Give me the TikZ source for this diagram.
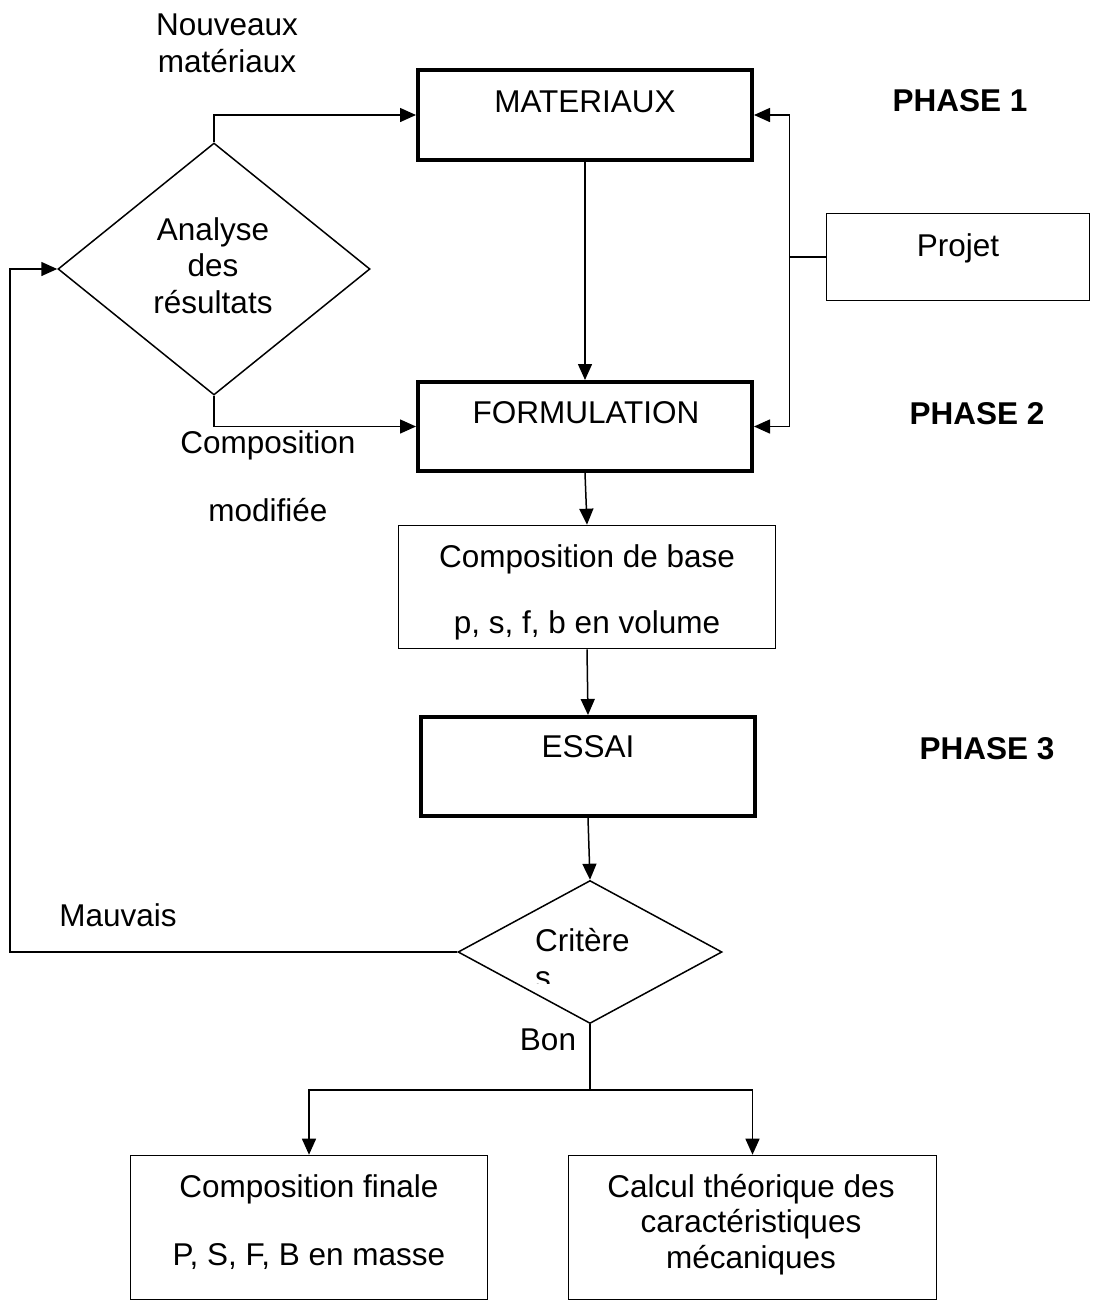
\documentclass[tikz,border=0pt]{standalone}
\usepackage{fontspec}
\setmainfont{Liberation Sans}
\usetikzlibrary{arrows.meta,shapes.geometric}
\begin{document}
\begin{tikzpicture}[x=1pt,y=-1pt,
  every node/.style={font=\fontsize{31.5}{37}\selectfont, inner sep=0pt},
  thickbox/.style={draw, line width=4pt, rectangle},
  thinbox/.style={draw, line width=1.6pt, rectangle},
  decision/.style={draw, diamond, line width=1.5pt, inner sep=0pt},
  conn/.style={line width=1.5pt, -{Triangle[length=16pt,width=14pt]}},
  plain/.style={line width=1.5pt},
  txt/.style={anchor=base, align=center},
  phase/.style={anchor=base, font=\fontsize{31.5}{37}\selectfont\bfseries},
]
\useasboundingbox (0,0) rectangle (1096,1302);

% boxes
\node[thickbox, minimum width=334pt, minimum height=90pt] (mat) at (585,115) {};
\node[thickbox, minimum width=334pt, minimum height=89pt] (form) at (585,426.5) {};
\node[thinbox, minimum width=377pt, minimum height=123pt] (base) at (587,587) {};
\node[thickbox, minimum width=334pt, minimum height=99pt] (essai) at (588,766.5) {};
\node[thinbox, minimum width=263pt, minimum height=87pt] (proj) at (958,257) {};
\node[thinbox, minimum width=357pt, minimum height=144pt] (fin) at (309,1227.5) {};
\node[thinbox, minimum width=368pt, minimum height=144pt] (calc) at (752.5,1227.5) {};

% decisions
\node[decision, minimum width=312pt, minimum height=252pt] (ana) at (214,269) {};
\node[decision, minimum width=264pt, minimum height=143pt] (crit) at (590,952) {};

% texts in shapes
\node[txt] (tmat) at (585,112) {MATERIAUX};
\node[txt] (tform) at (586,423) {FORMULATION};
\node[txt] (tbase1) at (587,567) {Composition de base};
\node[txt] (tbase2) at (587,633) {p, s, f, b en volume};
\node[txt] (tessai) at (588,757) {ESSAI};
\node[txt] (tproj) at (958,256) {Projet};
\node[txt, font=\fontsize{31.5}{36.5}\selectfont] (tana) at (213,313) {Analyse\\des\\résultats};
\node[anchor=base west] (tcrit) at (535,951) {Critère};
\begin{scope}
  \clip (520,960) rectangle (600,983);
  \node[anchor=base west] (tcrits) at (535,988) {s};
\end{scope}
\node[txt] (tfin1) at (309,1197) {Composition finale};
\node[txt] (tfin2) at (309,1265) {P, S, F, B en masse};
\node[txt, font=\fontsize{31.5}{35.5}\selectfont] (tcalc) at (751,1268) {Calcul théorique des\\caractéristiques\\mécaniques};

% free labels
\node[txt] (tnouv) at (227,72) {Nouveaux\\matériaux};
\node[txt] (tcomp) at (268,453) {Composition};
\node[txt] (tmodif) at (268,521) {modifiée};
\node[txt] (tmauv) at (118,926) {Mauvais};
\node[txt] (tbon) at (548,1050) {Bon};
\node[phase] (ph1) at (960,111) {PHASE 1};
\node[phase] (ph2) at (977,424) {PHASE 2};
\node[phase] (ph3) at (987,759) {PHASE 3};

% connectors
\draw[conn] (ana.north) |- (mat.west);
\draw[conn] (ana.south) |- (form.west);
\draw[conn] (mat.south) -- (form.north);
\draw[plain] (proj.west) -- ++(-36,0) coordinate (bus);
\draw[conn] (bus) |- (mat.east);
\draw[conn] (bus) |- (form.east);
\draw[conn] (form.south) -- (base.north);
\draw[conn] (base.south) -- (essai.north);
\draw[conn] (essai.south) -- (crit.north);
\coordinate (fb) at (10,952);
\draw[conn] (crit.west) -- (fb) |- (ana.west);
\coordinate (jn) at (590,1090);
\draw[plain] (crit.south) -- (jn);
\draw[conn] (jn) -| (fin.north);
\draw[conn] (jn) -| (calc.north);
\end{tikzpicture}
\end{document}
